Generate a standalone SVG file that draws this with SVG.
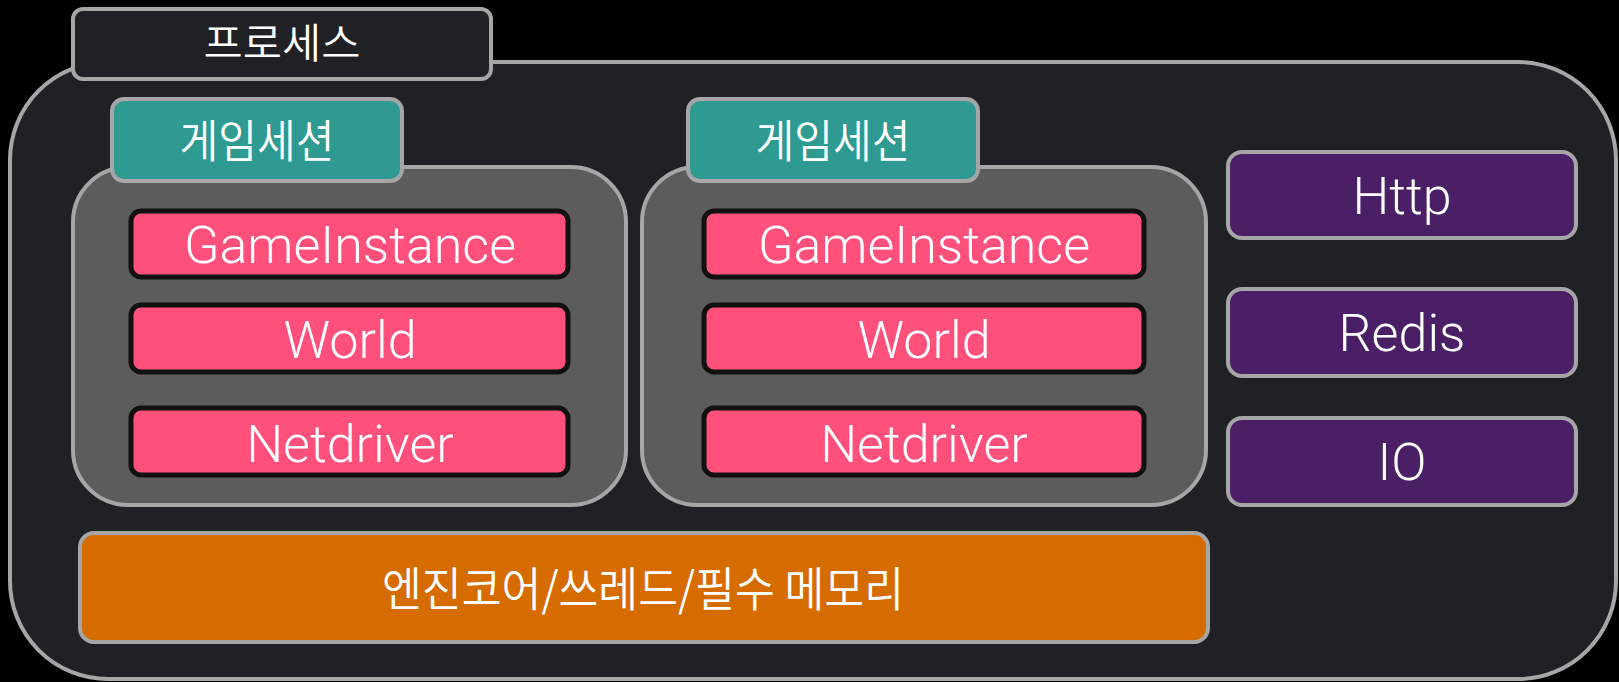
<svg xmlns="http://www.w3.org/2000/svg" width="1619" height="682" viewBox="0 0 1619 682">
<style>
.frame{stroke:#a6a6a6;stroke-width:4}
.outer{fill:#202124}
.sess{fill:#5c5c5c}
.tab{fill:#2e9a92}
.pink{fill:#ff4f7b;stroke:#111111;stroke-width:5}
.svc{fill:#4a1f66}
.core{fill:#d66b00}
.ko{font-family:"Noto Sans CJK KR","Noto Sans",sans-serif;font-weight:350;fill:#ffffff;text-anchor:middle}
.en{font-family:Roboto,"Liberation Sans",sans-serif;font-weight:300;fill:#ffffff;text-anchor:middle;font-size:52px}
</style>
<rect x="0" y="0" width="1619" height="682" fill="#000000"/>
<g id="process">
<rect class="outer frame" x="10" y="62" width="1606" height="617" rx="98"/>
<rect class="outer frame" x="73" y="9" width="418" height="70" rx="10"/>
<text class="ko" x="282" y="58" font-size="41" textLength="157" lengthAdjust="spacingAndGlyphs">프로세스</text>
</g>
<g id="session1">
<rect class="sess frame" x="73" y="167" width="553" height="338" rx="55"/>
<rect class="tab frame" x="112" y="99" width="290" height="82" rx="12"/>
<text class="ko" x="257" y="158" font-size="45" textLength="155" lengthAdjust="spacingAndGlyphs">게임세션</text>
</g>
<g id="s1-gameinstance">
<rect class="pink" x="131" y="211" width="437" height="66" rx="10"/>
<text class="en" x="350" y="263">GameInstance</text>
</g>
<g id="s1-world">
<rect class="pink" x="131" y="305" width="437" height="67" rx="10"/>
<text class="en" x="350" y="358">World</text>
</g>
<g id="s1-netdriver">
<rect class="pink" x="131" y="408" width="437" height="67" rx="10"/>
<text class="en" x="350" y="462">Netdriver</text>
</g>
<g id="session2">
<rect class="sess frame" x="642" y="167" width="564" height="338" rx="55"/>
<rect class="tab frame" x="688" y="99" width="290" height="82" rx="12"/>
<text class="ko" x="833" y="158" font-size="45" textLength="155" lengthAdjust="spacingAndGlyphs">게임세션</text>
</g>
<g id="s2-gameinstance">
<rect class="pink" x="704" y="211" width="440" height="66" rx="10"/>
<text class="en" x="924" y="263">GameInstance</text>
</g>
<g id="s2-world">
<rect class="pink" x="704" y="305" width="440" height="67" rx="10"/>
<text class="en" x="924" y="358">World</text>
</g>
<g id="s2-netdriver">
<rect class="pink" x="704" y="408" width="440" height="67" rx="10"/>
<text class="en" x="924" y="462">Netdriver</text>
</g>
<g id="http">
<rect class="svc frame" x="1228" y="152" width="348" height="86" rx="14"/>
<text class="en" x="1402" y="214">Http</text>
</g>
<g id="redis">
<rect class="svc frame" x="1228" y="289" width="348" height="87" rx="14"/>
<text class="en" x="1402" y="351">Redis</text>
</g>
<g id="io">
<rect class="svc frame" x="1228" y="418" width="348" height="87" rx="14"/>
<text class="en" x="1402" y="480">IO</text>
</g>
<g id="engine-core">
<rect class="core frame" x="80" y="533" width="1128" height="109" rx="14"/>
<text class="ko" x="643" y="606" font-size="47" textLength="522" lengthAdjust="spacingAndGlyphs">엔진코어/쓰레드/필수 메모리</text>
</g>
<g id="connectors"></g>
</svg>
